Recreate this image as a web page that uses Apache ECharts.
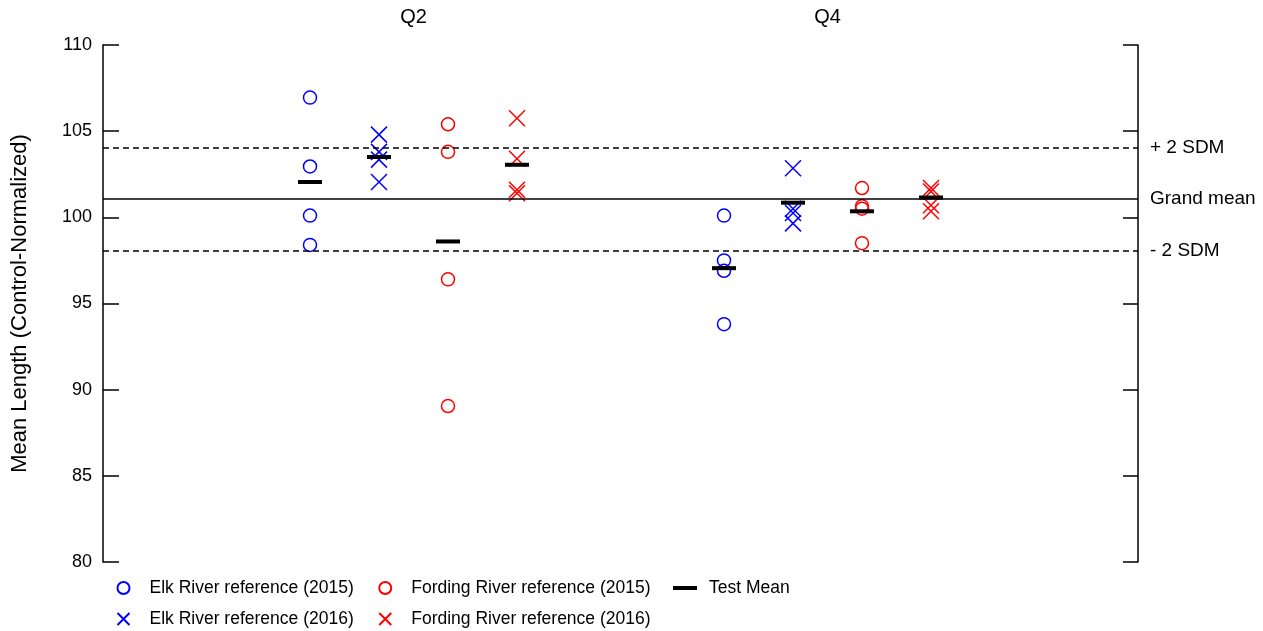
<!DOCTYPE html>
<html>
<head>
<meta charset="utf-8">
<script src="https://cdn.jsdelivr.net/npm/echarts@6/dist/echarts.min.js"></script>
<style>
  html, body { margin: 0; padding: 0; background: #fff; }
  #chart { width: 1263px; height: 631px; }
</style>
</head>
<body>
<div id="chart"></div>
<script>
// Quarter groups and the four reference sets measured in each
const groups = ['Q2', 'Q4'];
const elk2015 = [[106.95, 102.95, 100.1, 98.4], [100.1, 97.5, 96.9, 93.8]];
const elk2016 = [[104.8, 103.8, 103.35, 102.05], [102.85, 100.5, 100.25, 99.65]];
const fording2015 = [[105.4, 103.8, 96.4, 89.05], [101.7, 100.65, 100.5, 98.5]];
const fording2016 = [[105.75, 103.4, 101.6, 101.4], [101.7, 101.5, 100.7, 100.35]];
// Test means per group, one per reference set
const testMean = [[102.05, 103.5, 98.6, 103.05], [97.05, 100.85, 100.35, 101.15]];
// Horizontal reference levels
const grandMean = 101.05;
const upperSDM = 104.05;
const lowerSDM = 98.05;

const groupWidth = 6;       // x-span given to each quarter
const groupCenters = groups.map((_, i) => 4.5 + i * groupWidth);
const slotOffsets = [-1.5, -0.5, 0.5, 1.5];

function points(sets, slot) {
  const out = [];
  sets.forEach((vals, g) => vals.forEach(v => out.push([groupCenters[g] + slotOffsets[slot], v])));
  return out;
}
function meanPoints() {
  const out = [];
  testMean.forEach((vals, g) => vals.forEach((v, s) => out.push([groupCenters[g] + slotOffsets[s], v])));
  return out;
}

const crossPath = 'path://M0,0L10,10M10,0L0,10';
const font = 'Liberation Sans, Arial, sans-serif';

function ringSeries(name, color, data) {
  return {
    name, type: 'scatter', data, symbol: 'circle', symbolSize: 13,
    itemStyle: { color: 'none', borderColor: color, borderWidth: 1.5, opacity: 1 },
    z: 3
  };
}
function crossSeries(name, color, data) {
  return {
    name, type: 'scatter', data, symbol: crossPath, symbolSize: 16,
    itemStyle: { color: 'none', borderColor: color, borderWidth: 1.5, opacity: 1 },
    z: 3
  };
}

const chart = echarts.init(document.getElementById('chart'), null, { renderer: 'canvas' });

const refLabel = { show: true, position: 'end', distance: 12, color: '#000', fontSize: 19, fontFamily: font };
const legendText = { fontSize: 17.5, color: '#000', fontFamily: font };

chart.setOption({
  animation: false,
  textStyle: { fontFamily: font },
  grid: { left: 103, right: 125, top: 45, bottom: 69 },
  xAxis: [
    { type: 'value', min: 0, max: 15, show: false },
    {
      type: 'value', min: 0, max: 15, interval: 1.5, position: 'top',
      axisLine: { show: false }, axisTick: { show: false }, splitLine: { show: false },
      axisLabel: {
        margin: 18, fontSize: 20, color: '#000', fontFamily: font,
        formatter: v => {
          const i = groupCenters.findIndex(c => Math.abs(c - v) < 1e-6);
          return i >= 0 ? groups[i] : '';
        }
      }
    }
  ],
  yAxis: [
    {
      type: 'value', min: 80, max: 110, interval: 5, position: 'left',
      name: 'Mean Length (Control-Normalized)', nameLocation: 'middle', nameGap: 72,
      nameTextStyle: { fontSize: 22, color: '#000', fontFamily: font },
      axisLine: { show: true, onZero: false, lineStyle: { color: '#000', width: 1.5 } },
      axisTick: { show: true, inside: true, length: 16, lineStyle: { color: '#000', width: 1.5 } },
      axisLabel: { fontSize: 18, color: '#000', margin: 11, fontFamily: font },
      splitLine: { show: false }
    },
    {
      type: 'value', min: 80, max: 110, interval: 5, position: 'right',
      axisLine: { show: true, onZero: false, lineStyle: { color: '#000', width: 1.5 } },
      axisTick: { show: true, inside: true, length: 15, lineStyle: { color: '#000', width: 1.5 } },
      axisLabel: { show: false },
      splitLine: { show: false }
    }
  ],
  legend: [
    {
      orient: 'horizontal', left: 115, top: 579, padding: 0,
      itemWidth: 12, itemHeight: 12, itemGap: 23,
      textStyle: Object.assign({ padding: [0, 0, 0, 15] }, legendText),
      data: ['Elk River reference (2015)', 'Fording River reference (2015)']
    },
    {
      orient: 'horizontal', left: 115, top: 610, padding: 0,
      itemWidth: 12, itemHeight: 12, itemGap: 23,
      textStyle: Object.assign({ padding: [0, 0, 0, 15] }, legendText),
      data: ['Elk River reference (2016)', 'Fording River reference (2016)']
    },
    {
      orient: 'horizontal', left: 673, top: 579, padding: 0,
      itemWidth: 24, itemHeight: 4,
      textStyle: Object.assign({ padding: [0, 0, 0, 7] }, legendText),
      data: [{ name: 'Test Mean', icon: 'rect' }]
    }
  ],
  series: [
    {
      name: 'refs', type: 'scatter', data: [], silent: true,
      markLine: {
        silent: true, symbol: 'none', animation: false,
        data: [
          { yAxis: grandMean, lineStyle: { color: '#000', width: 1.5, type: 'solid' },
            label: Object.assign({}, refLabel, { formatter: 'Grand mean' }) },
          { yAxis: upperSDM, lineStyle: { color: '#000', width: 1.5, type: [6, 4] },
            label: Object.assign({}, refLabel, { formatter: '+ 2 SDM' }) },
          { yAxis: lowerSDM, lineStyle: { color: '#000', width: 1.5, type: [6, 4] },
            label: Object.assign({}, refLabel, { formatter: '- 2 SDM' }) }
        ]
      }
    },
    ringSeries('Elk River reference (2015)', '#0000ff', points(elk2015, 0)),
    crossSeries('Elk River reference (2016)', '#0000ff', points(elk2016, 1)),
    ringSeries('Fording River reference (2015)', '#ff0000', points(fording2015, 2)),
    crossSeries('Fording River reference (2016)', '#ff0000', points(fording2016, 3)),
    {
      name: 'Test Mean', type: 'scatter', data: meanPoints(),
      symbol: 'rect', symbolSize: [24, 4], itemStyle: { color: '#000', opacity: 1 }, z: 4
    }
  ]
});
</script>
</body>
</html>
